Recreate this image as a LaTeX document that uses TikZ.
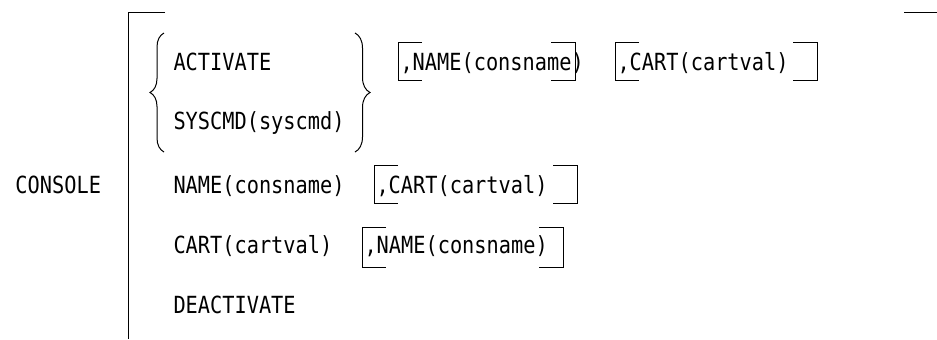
\documentclass[tikz,border=0pt]{standalone}
\usepackage{fontspec}
\newfontfamily\syntaxfont[FakeStretch=0.86]{DejaVu Sans Mono}
\usepackage{tikz}
\usetikzlibrary{decorations.pathreplacing}

\begin{document}
\begin{tikzpicture}[x=0.5pt, y=-0.5pt, line width=0.5pt,
    kw/.style={font=\syntaxfont\fontsize{11.8pt}{13pt}\selectfont, anchor=base west, inner sep=0pt}]
        \useasboundingbox (0,0) rectangle (937,339);

        % outer bracket of the statement
        \draw (165,12) -- (128,12) -- (128,339);
        \draw (904,12) -- (937,12);

        \node[kw] (console) at (15,193.5) {CONSOLE};

        % choice between ACTIVATE and SYSCMD
        \node[kw] (activate) at (173,70.5) {ACTIVATE};
        \node[kw] (syscmd) at (173,129.5) {SYSCMD(syscmd)};
        \draw[decorate, decoration={brace, amplitude=7pt}] (164,152) -- (164,33);
        \draw[decorate, decoration={brace, amplitude=7.5pt}] (355,33) -- (355,152);

        \node[kw] (name) at (173,193.5) {NAME(consname)};
        \node[kw] (cart) at (173,253) {CART(cartval)};
        \node[kw] (deactivate) at (173,313.5) {DEACTIVATE};

        % optional operands
        \node[kw] (optname) at (400,70.5) {,NAME(consname)};
        \node[kw] (optcart) at (617,70.5) {,CART(cartval)};
        \node[kw] (namecart) at (376,193.5) {,CART(cartval)};
        \node[kw] (cartname) at (364,253) {,NAME(consname)};

        \foreach \l/\r/\t/\b in {398/575/42/80, 615/817/42/80, 374/577/165/203, 362/563/227/267}
            \draw (\l+24,\t) -- (\l,\t) -- (\l,\b) -- (\l+24,\b)
                  (\r-24,\t) -- (\r,\t) -- (\r,\b) -- (\r-24,\b);
    \end{tikzpicture}
\end{document}
